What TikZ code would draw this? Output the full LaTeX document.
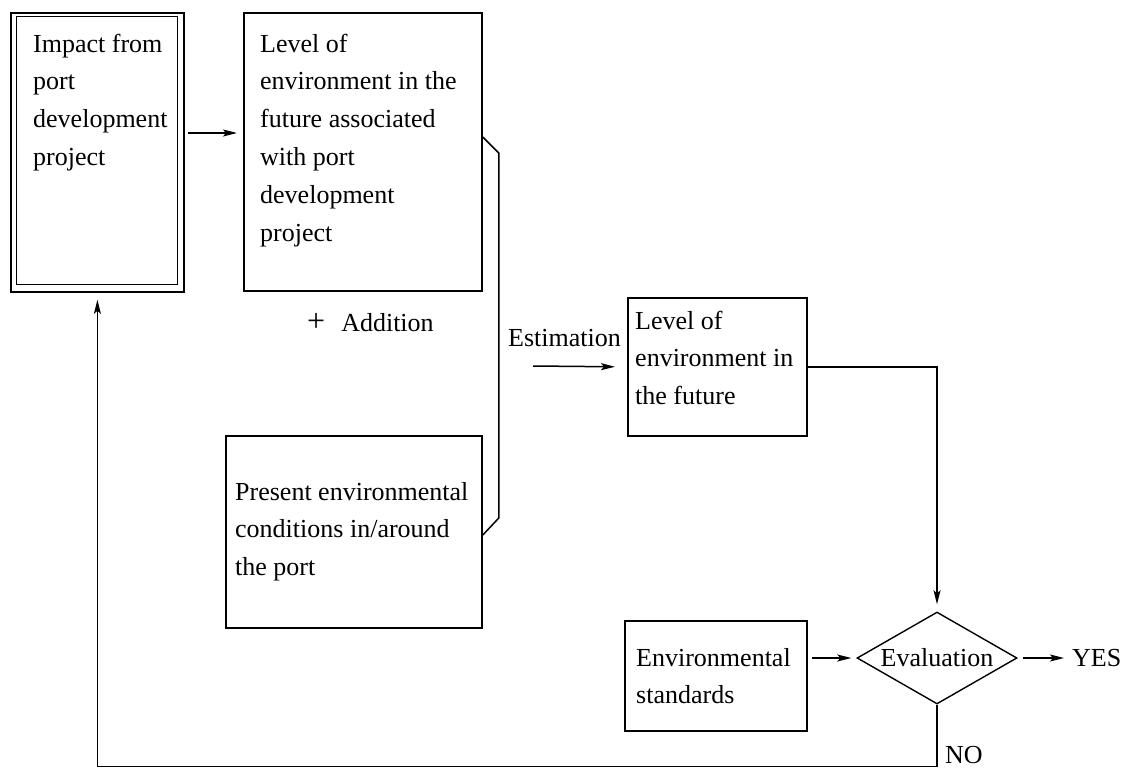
\documentclass[tikz,border=0pt]{standalone}
\usepackage{fontspec}
\setmainfont{Liberation Serif}
\usetikzlibrary{arrows.meta,calc,shapes.geometric}
\begin{document}
\begin{tikzpicture}[x=1pt,y=-1pt,
  box/.style={draw, line width=1.8pt, inner sep=0pt, anchor=north west},
  txt/.style={inner sep=0pt, anchor=north west, align=left, font=\fontsize{26}{37.8}\selectfont},
  lbl/.style={inner sep=0pt, font=\fontsize{26}{37.8}\selectfont},
  conn/.style={line width=1.5pt},
  arr/.style={conn, -{Stealth[length=14pt,width=7pt,inset=3pt]}},
]
\useasboundingbox (0,0) rectangle (1126,768);

% boxes
\node[box, minimum width=173pt, minimum height=279pt] (b1) at (10,12) {};
\draw[line width=1pt] ($(b1.north west)+(6,5)$) rectangle ($(b1.south east)+(-7,-8)$);
\node[txt] (t1) at (33,25.5) {\strut Impact from\\port\\development\\project};

\node[box, minimum width=238pt, minimum height=278pt] (b2) at (243,12) {};
\node[txt] (t2) at (260,25.5) {\strut Level of\\environment in the\\future associated\\with port\\development\\project};

\node[box, minimum width=256pt, minimum height=192pt] (b3) at (225,435) {};
\node[txt] (t3) at (235,473.5) {\strut Present environmental\\conditions in/around\\the port};

\node[box, minimum width=179pt, minimum height=138pt] (b4) at (627,297) {};
\node[txt] (t4) at (635,302.5) {\strut Level of\\environment in\\the future};

\node[box, minimum width=182pt, minimum height=110pt] (b5) at (624,620) {};
\node[txt] (t5) at (636,639.5) {\strut Environmental\\standards};

\node[draw, diamond, aspect=1.74, line width=1.4pt, inner sep=0pt,
      minimum width=160pt, minimum height=92pt, font=\fontsize{26}{37.8}\selectfont] (dia) at (937,658) {Evaluation};

% labels
\node[lbl, anchor=base west] (add) at (307,331) {{\fontsize{32}{32}\selectfont +}\hspace{16pt}Addition};
\node[lbl, anchor=base west] (estl) at (508,346) {Estimation};
\node[lbl, anchor=west] (yes) at (1072,658) {YES};
\node[lbl, anchor=base west] (no) at (945,763) {NO};

% connectors
\coordinate (a1s) at ($(b1.north east)+(3,121)$);
\draw[arr, shorten >=6pt] (a1s) -- (a1s -| b2.west);

\draw[conn] ($(b2.north east)+(0,125)$) -- ++(16,16) -- ($(b3.north east)+(16,83)$) -- ($(b3.north east)+(0,100)$);

\coordinate (est) at (533,366);
\draw[arr, shorten >=12pt] (est) -- (b4.west);

\draw[arr, shorten >=7pt] (b4.east) -| (dia.north);

\draw[arr, shorten >=5pt] (b5.east |- dia.west) ++(4,0) -- (dia.west);

\draw[arr, shorten <=5pt, shorten >=8pt] (dia.east) -- (yes.west);

\coordinate (nocorner) at ($(dia.south)+(0,62)$);
\draw[arr, shorten >=7pt] (dia.south) -- (nocorner) -| (b1.south);
\end{tikzpicture}
\end{document}
